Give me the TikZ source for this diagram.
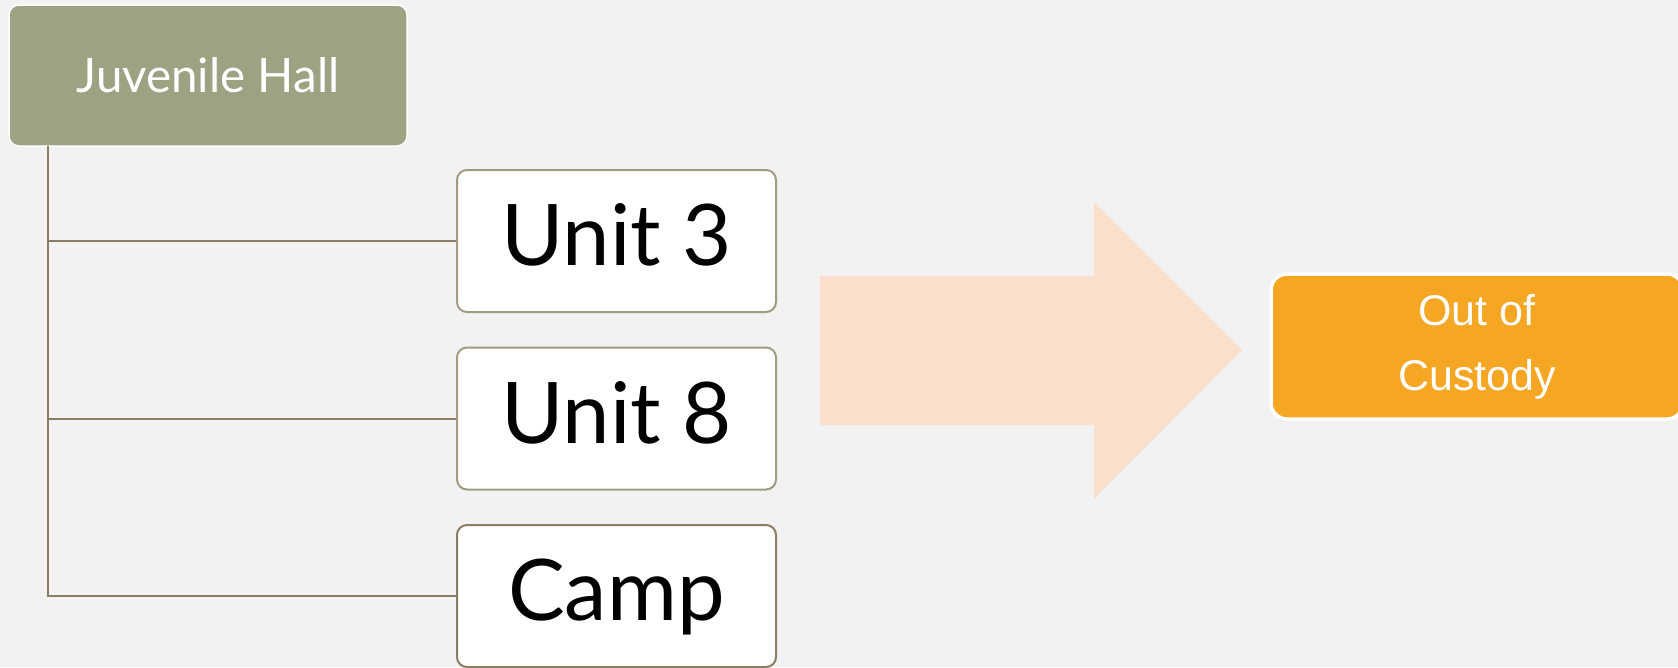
\documentclass[tikz,border=0pt]{standalone}
\usepackage{fontspec}
\setmainfont{Lato}
\newfontfamily\arialfont{Liberation Sans}
\definecolor{bg}{HTML}{F2F2F2}
\definecolor{sage}{HTML}{9CA383}
\definecolor{trunkline}{HTML}{8B7D62}
\definecolor{unitedge}{HTML}{A09C82}
\definecolor{peach}{HTML}{FAE0CC}
\definecolor{amber}{HTML}{F5A623}
\begin{document}
\begin{tikzpicture}[x=1pt,y=-1pt,
  headbox/.style={draw=white, line width=1.5pt, fill=sage, rounded corners=10pt,
    minimum width=398pt, minimum height=141pt, inner sep=0pt, text=white,
    font=\fontsize{47.5}{50}\selectfont},
  unitbox/.style={draw=unitedge, line width=2pt, fill=white, rounded corners=10pt,
    minimum width=319pt, minimum height=142pt, inner sep=0pt, text=black,
    text height=66pt, text depth=17pt,
    font=\fontsize{85}{90}\selectfont},
  outbox/.style={draw=white, line width=3.5pt, fill=amber, rounded corners=16pt,
    minimum width=412pt, minimum height=145pt, inner sep=0pt, text=white,
    align=center, font=\arialfont\fontsize{43}{65}\selectfont},
  conn/.style={draw=trunkline, line width=2pt}]
  \fill[bg] (0,0) rectangle (1678,667);
  \useasboundingbox (0,0) rectangle (1678,667);
  \clip (0,0) rectangle (1678,667);

  % broad arrow towards the release box
  \fill[peach] (820,276) -- (1094,276) -- (1094,202) -- (1242,350)
    -- (1094,499) -- (1094,425) -- (820,425) -- cycle;

  \node[headbox] (jh) at (208,75.5) {Juvenile Hall};
  \node[unitbox] (u3) at (616.5,241) {Unit 3};
  \node[unitbox] (u8) at (616.5,418.5) {Unit 8};
  \node[unitbox, draw=trunkline] (camp) at (616.5,596) {Camp};
  \node[outbox] (out) at (1477,346.5) {Out of\\Custody};

  % tree connectors from the hall to each unit
  \coordinate (trunk) at (48,146);
  \draw[conn] (trunk) |- (camp.west);
  \draw[conn] (trunk |- u3.west) -- (u3.west);
  \draw[conn] (trunk |- u8.west) -- (u8.west);
\end{tikzpicture}
\end{document}
